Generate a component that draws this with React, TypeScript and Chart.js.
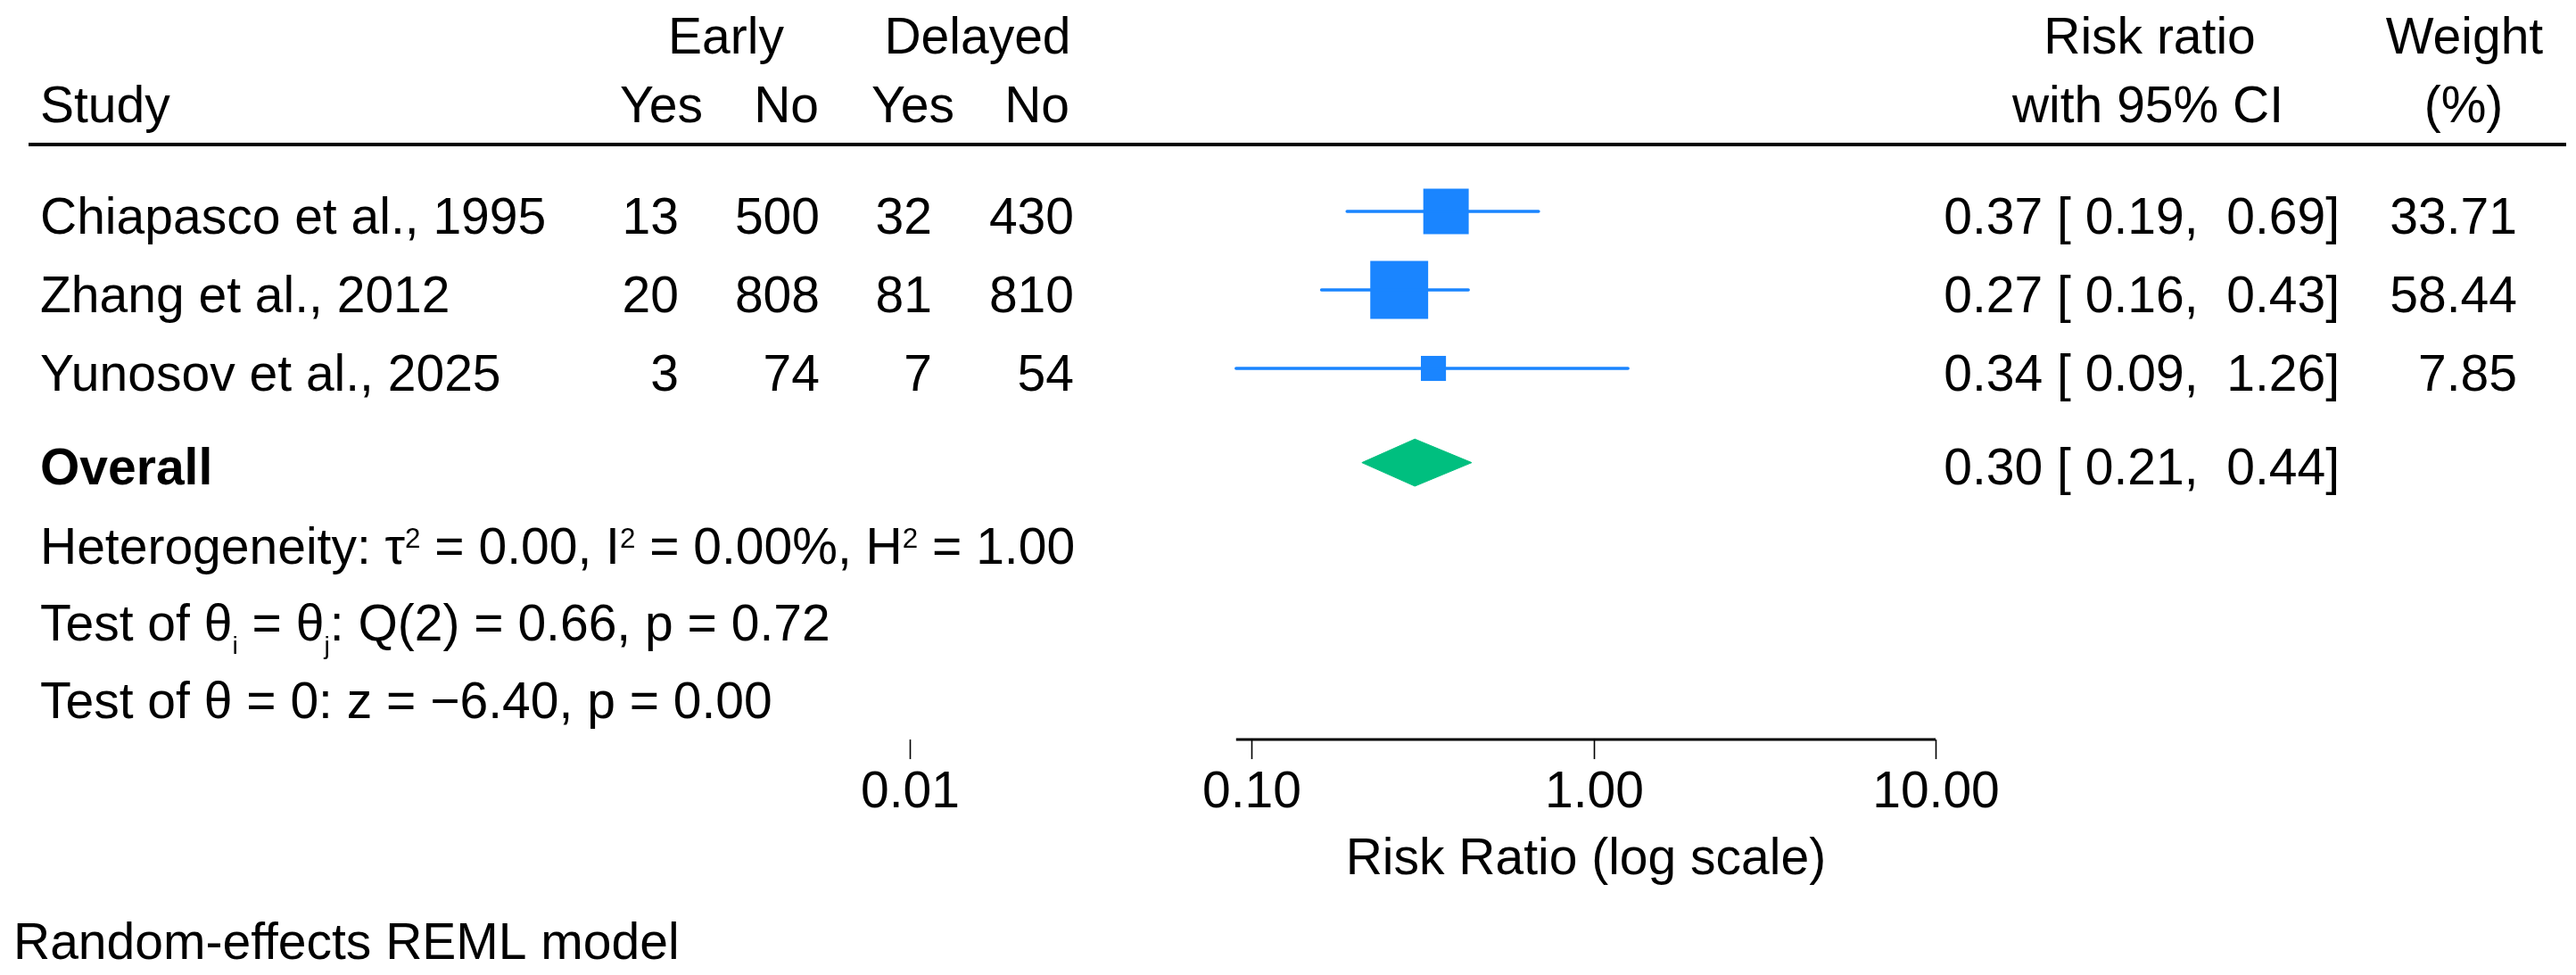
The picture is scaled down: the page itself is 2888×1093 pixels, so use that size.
import React, { useEffect, useRef } from "react";
import { Chart, registerables } from "chart.js";

Chart.register(...registerables);

// ---------- data ----------
const studies = ["Chiapasco et al., 1995", "Zhang et al., 2012", "Yunosov et al., 2025"];
const earlyYes = [13, 20, 3];
const earlyNo = [500, 808, 74];
const delayedYes = [32, 81, 7];
const delayedNo = [430, 810, 54];
const riskRatio = [0.37, 0.27, 0.34];
const ciLow = [0.19, 0.16, 0.09];
const ciHigh = [0.69, 0.43, 1.26];
const weights = [33.71, 58.44, 7.85];
const overallRR = 0.3;
const overallLow = 0.21;
const overallHigh = 0.44;
const xTicks = [0.01, 0.1, 1, 10];
const xTickLabels = ["0.01", "0.10", "1.00", "10.00"];
const axisTitle = "Risk Ratio (log scale)";
const modelNote = "Random-effects REML model";

type Seg = { t: string; sup?: boolean; sub?: boolean; bold?: boolean };
const heterogeneityLine: Seg[] = [
  { t: "Heterogeneity: τ" }, { t: "2", sup: true }, { t: " = 0.00, I" }, { t: "2", sup: true },
  { t: " = 0.00%, H" }, { t: "2", sup: true }, { t: " = 1.00" },
];
const homogeneityLine: Seg[] = [
  { t: "Test of θ" }, { t: "i", sub: true }, { t: " = θ" }, { t: "j", sub: true },
  { t: ": Q(2) = 0.66, p = 0.72" },
];
const effectLine: Seg[] = [{ t: "Test of θ = 0: z = −6.40, p = 0.00" }];

// ---------- style ----------
const BLUE = "#1a85ff";
const GREEN = "#00bf7f";
const FS = 57;
const FONT = (size: number, bold = false) =>
  `${bold ? "bold " : ""}${size}px "Liberation Sans", Arial, Helvetica, sans-serif`;

function drawRich(ctx: CanvasRenderingContext2D, segs: Seg[], x: number, y: number) {
  let cx = x;
  for (const s of segs) {
    const size = s.sup ? FS * 0.55 : s.sub ? FS * 0.5 : FS;
    ctx.font = FONT(size, !!s.bold);
    const dy = s.sup ? -0.716 * (FS - size) : s.sub ? 15 : 0;
    ctx.fillText(s.t, cx, y + dy);
    cx += ctx.measureText(s.t).width;
  }
}

const ciText = (r: number, l: number, h: number) =>
  `${r.toFixed(2)} [ ${l.toFixed(2)},  ${h.toFixed(2)}]`;

const OVERALL_ROW = studies.length + 1.2;
const DIAMOND_HALF = 0.3;

const tablePlugin = {
  id: "forestTable",
  afterDraw(chart: any) {
    const ctx: CanvasRenderingContext2D = chart.ctx;
    const xs = chart.scales.x;
    const ys = chart.scales.y;
    ctx.save();
    ctx.fillStyle = "#000";
    ctx.strokeStyle = "#000";
    ctx.textBaseline = "alphabetic";

    // headers
    ctx.font = FONT(FS);
    ctx.textAlign = "center";
    ctx.fillText("Early", 814, 60);
    ctx.fillText("Delayed", 1096, 60);
    ctx.fillText("Risk ratio", 2410, 60);
    ctx.fillText("Weight", 2763, 60);
    ctx.fillText("with 95% CI", 2408, 137);
    ctx.fillText("(%)", 2762, 137);
    ctx.textAlign = "left";
    ctx.fillText("Study", 45, 137);
    ctx.textAlign = "right";
    ctx.fillText("Yes", 788, 137);
    ctx.fillText("No", 918, 137);
    ctx.fillText("Yes", 1070, 137);
    ctx.fillText("No", 1199, 137);

    // header rule
    ctx.lineWidth = 4;
    ctx.beginPath();
    ctx.moveTo(32, 162);
    ctx.lineTo(2877, 162);
    ctx.stroke();

    // study rows
    studies.forEach((name, i) => {
      const by = ys.getPixelForValue(i + 1) + 24.5;
      ctx.font = FONT(FS);
      ctx.textAlign = "left";
      ctx.fillText(name, 45, by);
      ctx.textAlign = "right";
      ctx.fillText(String(earlyYes[i]), 761, by);
      ctx.fillText(String(earlyNo[i]), 919, by);
      ctx.fillText(String(delayedYes[i]), 1045, by);
      ctx.fillText(String(delayedNo[i]), 1204, by);
      ctx.fillText(ciText(riskRatio[i], ciLow[i], ciHigh[i]), 2623, by);
      ctx.fillText(weights[i].toFixed(2), 2822, by);
    });

    // overall row
    const oy = ys.getPixelForValue(OVERALL_ROW) + 24;
    ctx.font = FONT(FS, true);
    ctx.textAlign = "left";
    ctx.fillText("Overall", 45, oy);
    ctx.font = FONT(FS);
    ctx.textAlign = "right";
    ctx.fillText(ciText(overallRR, overallLow, overallHigh), 2623, oy);

    // stats
    ctx.textAlign = "left";
    drawRich(ctx, heterogeneityLine, 45, 632);
    drawRich(ctx, homogeneityLine, 45, 718);
    drawRich(ctx, effectLine, 45, 805);

    // x axis (custom: line spans data range to last tick)
    const axisY = chart.chartArea.bottom;
    const lineStart = xs.getPixelForValue(Math.min(...ciLow, overallLow));
    const lineEnd = xs.getPixelForValue(xTicks[xTicks.length - 1]);
    ctx.lineWidth = 3;
    ctx.beginPath();
    ctx.moveTo(lineStart, axisY);
    ctx.lineTo(lineEnd, axisY);
    ctx.stroke();
    ctx.lineWidth = 1.6;
    ctx.font = FONT(FS);
    ctx.textAlign = "center";
    xTicks.forEach((t, k) => {
      const px = Math.round(xs.getPixelForValue(t)) + 0.5;
      ctx.beginPath();
      ctx.moveTo(px, axisY);
      ctx.lineTo(px, axisY + 22);
      ctx.stroke();
      ctx.fillText(xTickLabels[k], px, axisY + 76);
    });
    ctx.fillText(axisTitle, (lineStart + lineEnd) / 2, axisY + 151);

    // model note
    ctx.textAlign = "left";
    ctx.fillText(modelNote, 15, 1075);
    ctx.restore();
  },
};

export default function App() {
  const ref = useRef<HTMLCanvasElement | null>(null);
  useEffect(() => {
    if (!ref.current) return;
    const datasets: any[] = [];
    studies.forEach((_, i) => {
      datasets.push({
        type: "line",
        data: [
          { x: ciLow[i], y: i + 1 },
          { x: ciHigh[i], y: i + 1 },
        ],
        borderColor: BLUE,
        borderWidth: 3.5,
        borderCapStyle: "round",
        pointRadius: 0,
        fill: false,
      });
    });
    datasets.push({
      type: "scatter",
      data: riskRatio.map((r, i) => ({ x: r, y: i + 1 })),
      pointStyle: "rect",
      pointRadius: weights.map((w) => (6.8 + 7.6 * Math.sqrt(w)) / Math.SQRT2),
      backgroundColor: BLUE,
      borderWidth: 0,
    });
    datasets.push({
      type: "line",
      data: [
        { x: overallLow, y: OVERALL_ROW },
        { x: overallRR, y: OVERALL_ROW - DIAMOND_HALF },
        { x: overallHigh, y: OVERALL_ROW },
        { x: overallRR, y: OVERALL_ROW + DIAMOND_HALF },
        { x: overallLow, y: OVERALL_ROW },
      ],
      borderColor: GREEN,
      borderWidth: 1,
      backgroundColor: GREEN,
      pointRadius: 0,
      fill: "shape",
    });

    const chart = new Chart(ref.current, {
      type: "scatter",
      data: { datasets },
      options: {
        animation: false,
        responsive: true,
        maintainAspectRatio: false,
        events: [],
        layout: { padding: { left: 1020, right: 718, top: 149, bottom: 264 } },
        plugins: { legend: { display: false }, tooltip: { enabled: false } },
        scales: {
          x: { type: "logarithmic", min: xTicks[0], max: xTicks[xTicks.length - 1], display: false },
          y: { type: "linear", min: 0, max: 7.727, reverse: true, display: false },
        },
      },
      plugins: [tablePlugin],
    } as any);
    return () => chart.destroy();
  }, []);

  return (
    <div style={{ position: "fixed", left: 0, top: 0, width: 2888, height: 1093, background: "#fff" }}>
      <canvas ref={ref} />
    </div>
  );
}
